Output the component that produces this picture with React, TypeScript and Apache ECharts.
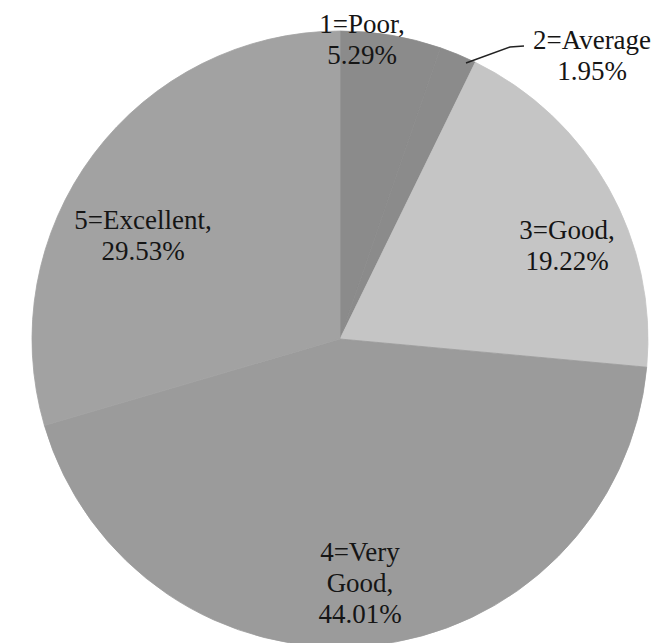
import React, { useEffect, useRef } from "react";
import * as echarts from "echarts";

// ---- data ----
const categories = ["1=Poor", "2=Average", "3=Good", "4=Very Good", "5=Excellent"];
const values = [5.29, 1.95, 19.22, 44.01, 29.53];
const labelNames = ["1=Poor,", "2=Average", "3=Good,", "4=Very\nGood,", "5=Excellent,"];

// ---- styles / layout ----
const sliceColors = ["#8b8b8b", "#8b8b8b", "#c5c5c5", "#9b9b9b", "#a2a2a2"];
const PAGE_W = 656;
const PAGE_H = 643;
const CENTER = [340, 339];
const RADIUS = 308;
const LABEL_POS = [
  [362, 39],
  [592, 55],
  [567, 245],
  [360, 583],
  [143, 235],
];
const AVG_LEADER = [
  [466, 63],
  [510, 47],
  [524, 46],
];
const FONT = "Liberation Serif";

const labelText = (i: number) => `${labelNames[i]}\n${values[i].toFixed(2)}%`;

export default function App() {
  const ref = useRef<HTMLDivElement>(null);

  useEffect(() => {
    if (!ref.current) return;
    const chart = echarts.init(ref.current, undefined, { renderer: "svg" });
    const data = categories.map((name, i) => ({
      name,
      value: values[i],
      itemStyle: { color: sliceColors[i], borderColor: sliceColors[i], borderWidth: 0.8 },
    }));
    const labelGraphics: any[] = categories.map((_, i) => ({
      type: "text",
      x: LABEL_POS[i][0],
      y: LABEL_POS[i][1],
      z: 100,
      silent: true,
      style: {
        text: labelText(i),
        fontFamily: FONT,
        fontSize: 27,
        lineHeight: 31,
        fill: "#151515",
        align: "center",
        verticalAlign: "middle",
      },
    }));
    labelGraphics.push({
      type: "polyline",
      z: 100,
      silent: true,
      shape: { points: AVG_LEADER },
      style: { stroke: "#222222", lineWidth: 1.5, fill: null },
    });
    chart.setOption({
      animation: false,
      backgroundColor: "#ffffff",
      textStyle: { fontFamily: FONT },
      graphic: labelGraphics,
      series: [
        {
          type: "pie",
          center: CENTER,
          radius: RADIUS,
          startAngle: 90,
          clockwise: true,
          avoidLabelOverlap: false,
          silent: true,
          data,
          label: { show: false },
          labelLine: { show: false },
        },
      ],
    });
    return () => chart.dispose();
  }, []);

  return (
    <div
      style={{
        position: "fixed",
        left: 0,
        top: 0,
        width: PAGE_W,
        height: PAGE_H,
        overflow: "hidden",
        background: "#ffffff",
      }}
    >
      <div ref={ref} style={{ width: PAGE_W, height: PAGE_H }} />
    </div>
  );
}
